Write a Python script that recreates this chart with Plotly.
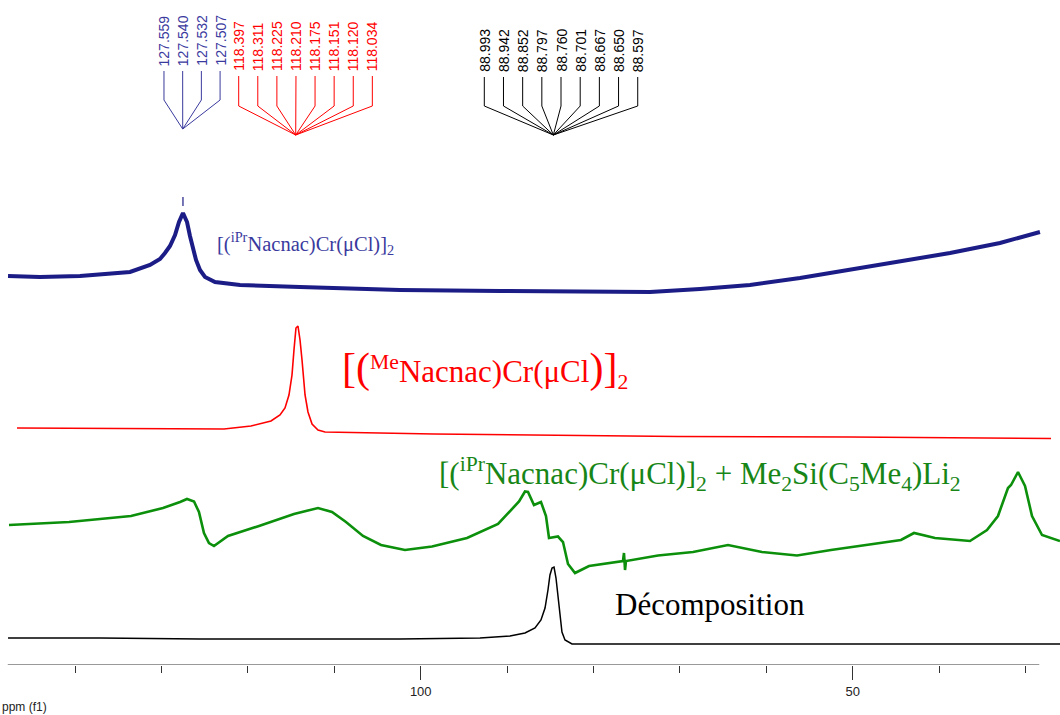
import plotly.graph_objects as go

# ---------------- data ----------------
# chemical shift (ppm) and intensity (arbitrary units above each trace's baseline)
blue_ppm = [147.77, 144.07, 139.44, 135.97, 133.65, 131.34, 130.18, 129.60, 129.02, 128.44,
            127.98, 127.52, 127.05, 126.71, 126.36, 126.01, 125.55, 124.97, 123.81, 120.92,
            113.97, 102.40, 90.82, 79.25, 73.46, 67.67, 61.89, 56.10, 50.31, 44.52,
            38.73, 32.95, 28.32]
blue_int = [19, 18, 19, 21, 23, 30, 36, 42, 49, 60,
            73, 82, 73, 59, 47, 35, 25, 18, 13, 10,
            8, 5, 4, 3, 3, 6, 10, 17, 25, 33,
            42, 52, 63]

red_ppm = [146.73, 137.12, 122.77, 119.65, 117.33, 116.29, 115.71, 115.25, 114.90, 114.67,
           114.44, 114.21, 113.97, 113.74, 113.39, 113.05, 112.58, 111.89, 111.08, 98.46,
           85.04, 70.22, 50.31, 27.04]
red_int = [12, 11.5, 11, 14, 19, 25, 32, 45, 65, 90,
           112, 114, 100, 80, 45, 28, 16, 10, 8, 6,
           5, 3.5, 3, 1.5]

green_ppm = [147.66, 140.71, 133.54, 129.83, 127.86, 127.05, 126.24, 125.67, 125.09, 124.51,
             123.93, 122.31, 118.72, 114.67, 111.89, 110.27, 108.65, 106.68, 104.60, 101.82,
             98.69, 94.64, 91.05, 88.62, 87.93, 87.58, 86.89, 86.08, 85.50, 85.15,
             84.11, 83.53, 82.95, 82.14, 80.52, 76.59, 76.47, 76.35, 76.24, 72.53,
             68.48, 64.43, 60.50, 56.44, 52.51, 48.46, 44.41, 42.90, 40.47, 36.42,
             34.45, 33.18, 32.02, 31.67, 30.86, 30.05, 29.24, 28.08, 26.00]
green_int = [55, 58, 64, 72, 78, 81, 78.5, 68, 47, 37,
             34, 44, 54, 66, 72, 68, 58, 44, 35, 30,
             33.5, 42, 56, 78.5, 88.5, 88, 75, 78, 64, 42,
             43.5, 38, 16, 7, 14, 19, 27, 10, 19, 24.5,
             28, 35, 28, 24.5, 30, 35, 40, 47, 42, 39,
             50, 64, 92, 95, 108, 94, 64, 45, 39]

black_ppm = [147.77, 137.12, 125.55, 113.97, 102.40, 93.14, 89.67, 87.93, 86.77, 86.08,
             85.61, 85.27, 85.04, 84.80, 84.57, 84.34, 84.11, 83.88, 83.65, 83.30,
             82.49, 67.67, 50.31, 26.00]
black_int = [7, 7, 6, 6, 6, 7, 9, 12, 17, 25,
             37, 55, 70, 77, 78, 67, 47, 27, 13, 5,
             1, 1, 1, 1]

# peak-picking labels
blue_labels = ["127.559", "127.540", "127.532", "127.507"]
red_labels = ["118.397", "118.311", "118.225", "118.210", "118.175", "118.151", "118.120", "118.034"]
black_labels = ["88.993", "88.942", "88.852", "88.797", "88.760", "88.701", "88.667", "88.650", "88.597"]

# tick labels
tick_vals = [100, 50]
tick_text = ["100", "50"]

# ---------------- layout constants ----------------
X_RANGE = [148.7, 26.0]
Y_RANGE = [0, 665]
AXIS_START, AXIS_END = 147.8, 28.4

BLUE = "#1c1c86"
BLUE_TXT = "#3a3a9e"
RED = "#ff0000"
GREEN = "#0c900c"
GREEN_TXT = "#178617"
BLACK = "#000000"

offsets = {"blue": 370, "red": 225, "green": 85, "black": 20}

fig = go.Figure()

def add_spec(ppm, inten, off, color, width):
    fig.add_trace(go.Scatter(x=ppm, y=[v + off for v in inten], mode="lines",
                             line=dict(color=color, width=width), hoverinfo="skip",
                             showlegend=False))

add_spec(blue_ppm, blue_int, offsets["blue"], BLUE, 4)
add_spec(red_ppm, red_int, offsets["red"], RED, 1.6)
add_spec(green_ppm, green_int, offsets["green"], GREEN, 2.6)
add_spec(black_ppm, black_int, offsets["black"], BLACK, 1.5)

# small peak marker above the blue peak
peak_blue = blue_ppm[blue_int.index(max(blue_int))]
fig.add_trace(go.Scatter(x=[peak_blue, peak_blue], y=[459, 468], mode="lines",
                         line=dict(color=BLUE, width=1.2), hoverinfo="skip", showlegend=False))

# multiplet label trees
groups = [
    # labels, color, first label ppm, spacing, convergence ppm, y_top, y_bend, y_conv
    (blue_labels, BLUE_TXT, 129.72, 2.165, 127.55, 594, 565, 536),
    (red_labels, RED, 121.07, 2.21, 114.47, 589, 559, 530),
    (black_labels, BLACK, 92.64, 2.22, 84.65, 588, 559, 530),
]
for labels, col, start, step, conv, ytop, ybend, yconv in groups:
    for i, lab in enumerate(labels):
        xl = start - i * step
        fig.add_trace(go.Scatter(x=[xl, xl, conv], y=[ytop, ybend, yconv], mode="lines",
                                 line=dict(color=col, width=1), hoverinfo="skip",
                                 showlegend=False))
        fig.add_annotation(x=xl, y=ytop + 3, xref="x", yref="y", text=lab, textangle=-90,
                           showarrow=False, xanchor="center", yanchor="bottom",
                           font=dict(family="Arial, Liberation Sans", size=14, color=col))

serif = "Liberation Serif, Times New Roman, serif"
fig.add_annotation(x=123.81, y=422, text="[(<sup>iPr</sup>Nacnac)Cr(μCl)]<sub>2</sub>",
                   showarrow=False, xanchor="left", yanchor="middle",
                   font=dict(family=serif, size=20.5, color=BLUE_TXT))
fig.add_annotation(x=109.34, y=296,
                   text='<span style="font-size:42px">[(</span><sup>Me</sup>Nacnac)Cr(μCl'
                        '<span style="font-size:42px">)]</span><sub>2</sub>',
                   showarrow=False, xanchor="left", yanchor="middle",
                   font=dict(family=serif, size=31, color=RED))
fig.add_annotation(x=98.12, y=191,
                   text="[(<sup>iPr</sup>Nacnac)Cr(μCl)]<sub>2</sub> + Me<sub>2</sub>Si(C<sub>5</sub>Me<sub>4</sub>)Li<sub>2</sub>",
                   showarrow=False, xanchor="left", yanchor="middle",
                   font=dict(family=serif, size=31, color=GREEN_TXT))
fig.add_annotation(x=77.74, y=61, text="Décomposition",
                   showarrow=False, xanchor="left", yanchor="middle",
                   font=dict(family=serif, size=31, color=BLACK))

fig.add_annotation(x=0, y=-42 / 665, xref="paper", yref="paper", text="ppm (f1)", showarrow=False,
                   xanchor="left", yanchor="middle",
                   font=dict(family="Arial, Liberation Sans", size=12, color="#222"))

# axis baseline
fig.add_shape(type="line", x0=AXIS_START, x1=AXIS_END, y0=0, y1=0, xref="x", yref="y",
              line=dict(color="#333", width=1))

fig.update_layout(
    width=1060, height=715,
    margin=dict(l=0, r=0, t=0, b=50),
    paper_bgcolor="white", plot_bgcolor="white",
    xaxis=dict(range=X_RANGE, showgrid=False, zeroline=False, showline=False,
               tickmode="array", tickvals=tick_vals, ticktext=tick_text,
               ticks="outside", ticklen=14, tickwidth=1, tickcolor="#333",
               tickfont=dict(family="Arial, Liberation Sans", size=13, color="#222"),
               minor=dict(dtick=10, tick0=0, ticks="outside", ticklen=7, tickwidth=1, tickcolor="#333")),
    yaxis=dict(range=Y_RANGE, visible=False, fixedrange=True),
)

fig.write_html("out.html")
